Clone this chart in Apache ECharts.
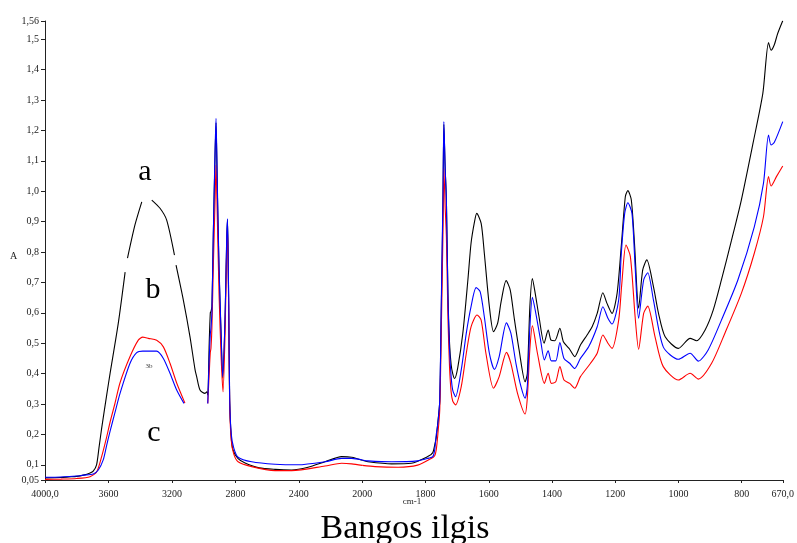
<!DOCTYPE html>
<html>
<head>
<meta charset="utf-8">
<script src="https://cdn.jsdelivr.net/npm/echarts@6/dist/echarts.min.js"></script>
<style>
html,body{margin:0;padding:0;background:#fff;}
#chart{width:797px;height:543px;}
</style>
</head>
<body>
<div id="chart"></div>
<script>
// Tick labels
const yTicks = [0.05, 0.1, 0.2, 0.3, 0.4, 0.5, 0.6, 0.7, 0.8, 0.9, 1.0, 1.1, 1.2, 1.3, 1.4, 1.5, 1.56];
const xTicksHigh = [4000, 3600, 3200, 2800, 2400, 2000];
const xTicksLow = [1800, 1600, 1400, 1200, 1000, 800, 670];

// Spectrum a (black): [wavenumber cm-1, absorbance]; null = gap in trace
const spectrumA = [
[4000,0.057],[3900,0.058],[3850,0.06],[3800,0.062],[3758,0.066],[3716,0.073],[3696,0.079],[3675,0.1],[3660,0.155],[3643,0.22],[3611,0.33],[3590,0.4],[3538,0.566],[3495,0.734],[3488,null],[3480,0.78],[3433,0.889],[3390,0.965],[3357,null],[3327,0.971],[3275,0.944],[3233,0.905],[3184,0.79],[3179,null],[3174,0.757],[3128,0.642],[3086,0.521],[3054,0.412],[3044,0.39],[3023,0.346],[2991,0.335],[2980,0.34],[2974,0.33],[2965,0.5],[2958,0.6],[2954,0.604],[2948,0.62],[2939,0.86],[2928,1.12],[2922,1.225],[2914,1.01],[2903,0.74],[2890,0.525],[2880,0.385],[2865,0.58],[2855,0.83],[2850,0.905],[2846,0.8],[2842,0.62],[2836,0.31],[2826,0.19],[2815,0.149],[2783,0.12],[2739,0.106],[2650,0.09],[2550,0.085],[2445,0.083],[2342,0.092],[2235,0.11],[2130,0.127],[2067,0.125],[2000,0.115],
[1982,0.11],[1907,0.103],[1845,0.105],[1793,0.127],[1777,0.14],[1771,0.165],[1766,0.19],[1761,0.24],[1755,0.31],[1750,0.62],[1745,0.95],[1742,1.22],[1738,1.08],[1734,0.97],[1729,0.66],[1724,0.5],[1719,0.43],[1714,0.4],[1708,0.384],[1698,0.42],[1682,0.533],[1666,0.708],[1656,0.829],[1645,0.9],[1638,0.927],[1624,0.894],[1614,0.796],[1598,0.62],[1585,0.538],[1572,0.565],[1561,0.636],[1545,0.706],[1532,0.675],[1520,0.587],[1504,0.478],[1485,0.373],[1478,0.4],[1470,0.62],[1462,0.713],[1453,0.664],[1441,0.587],[1425,0.5],[1412,0.543],[1403,0.51],[1391,0.508],[1375,0.549],[1364,0.505],[1346,0.483],[1328,0.456],[1310,0.494],[1289,0.527],[1273,0.554],[1257,0.598],[1239,0.666],[1226,0.631],[1210,0.598],[1194,0.664],[1181,0.817],[1168,0.982],[1160,1.002],[1149,0.971],[1139,0.829],[1126,0.615],[1113,0.741],[1100,0.774],[1079,0.686],[1063,0.598],[1042,0.521],[1000,0.483],[963,0.516],[943,0.508],[916,0.543],[890,0.609],[864,0.708],[832,0.839],[801,0.971],[764,1.158],[733,1.322],[715,1.489],[707,1.464],[697,1.481],[686,1.519],[670,1.561]
];

// Spectrum b (blue)
const spectrumB = [
[4000,0.059],[3900,0.06],[3800,0.063],[3758,0.066],[3696,0.07],[3664,0.083],[3633,0.116],[3611,0.165],[3590,0.21],[3560,0.27],[3527,0.335],[3464,0.434],[3422,0.469],[3384,0.474],[3340,0.474],[3296,0.474],[3254,0.45],[3212,0.401],[3170,0.346],[3124,0.302],[3050,null],[2974,0.302],[2965,0.45],[2958,0.53],[2954,0.549],[2948,0.6],[2939,0.861],[2928,1.136],[2922,1.24],[2914,1.026],[2903,0.752],[2890,0.533],[2880,0.39],[2865,0.587],[2855,0.84],[2850,0.909],[2846,0.8],[2842,0.64],[2836,0.32],[2826,0.2],[2810,0.155],[2783,0.125],[2697,0.11],[2550,0.102],[2405,0.1],[2235,0.11],[2130,0.121],[2067,0.121],[2000,0.116],
[1982,0.113],[1907,0.11],[1825,0.113],[1790,0.122],[1777,0.127],[1771,0.149],[1766,0.2],[1761,0.236],[1755,0.313],[1750,0.642],[1745,0.971],[1742,1.229],[1738,1.08],[1734,0.971],[1729,0.642],[1724,0.478],[1719,0.39],[1714,0.346],[1705,0.324],[1687,0.412],[1671,0.533],[1656,0.62],[1640,0.683],[1627,0.669],[1614,0.587],[1598,0.467],[1582,0.414],[1567,0.456],[1544,0.567],[1530,0.533],[1514,0.434],[1498,0.357],[1485,0.319],[1478,0.36],[1470,0.55],[1462,0.651],[1453,0.609],[1436,0.51],[1424,0.445],[1412,0.475],[1402,0.442],[1388,0.442],[1375,0.502],[1362,0.45],[1344,0.434],[1328,0.417],[1310,0.45],[1284,0.488],[1257,0.554],[1239,0.62],[1223,0.582],[1210,0.563],[1189,0.642],[1181,0.79],[1170,0.927],[1160,0.962],[1147,0.927],[1137,0.752],[1126,0.582],[1110,0.708],[1097,0.732],[1079,0.642],[1048,0.488],[1000,0.447],[963,0.467],[937,0.441],[906,0.478],[864,0.576],[812,0.708],[760,0.883],[731,1.026],[715,1.185],[707,1.152],[697,1.16],[670,1.229]
];

// Spectrum c (red)
const spectrumC = [
[4000,0.052],[3900,0.053],[3800,0.055],[3716,0.061],[3674,0.077],[3643,0.127],[3611,0.192],[3590,0.24],[3560,0.3],[3527,0.37],[3464,0.456],[3412,0.51],[3384,0.52],[3365,0.518],[3349,0.516],[3296,0.51],[3254,0.488],[3212,0.434],[3170,0.369],[3118,0.303],[3050,null],[2974,0.302],[2965,0.4],[2958,0.47],[2954,0.483],[2948,0.55],[2939,0.752],[2928,0.971],[2922,1.086],[2914,0.916],[2903,0.664],[2890,0.456],[2878,0.34],[2865,0.533],[2855,0.806],[2850,0.88],[2846,0.76],[2842,0.6],[2836,0.3],[2826,0.18],[2810,0.135],[2783,0.11],[2697,0.094],[2550,0.081],[2445,0.081],[2235,0.096],[2130,0.105],[2067,0.103],[2000,0.098],
[1960,0.094],[1887,0.092],[1825,0.099],[1782,0.121],[1771,0.13],[1766,0.15],[1761,0.2],[1755,0.28],[1750,0.55],[1745,0.85],[1742,1.075],[1738,0.95],[1734,0.85],[1729,0.58],[1724,0.42],[1719,0.34],[1714,0.31],[1705,0.297],[1687,0.357],[1671,0.467],[1656,0.554],[1637,0.593],[1624,0.576],[1609,0.467],[1585,0.352],[1567,0.39],[1544,0.47],[1530,0.434],[1509,0.335],[1485,0.267],[1478,0.32],[1470,0.48],[1462,0.557],[1446,0.467],[1424,0.368],[1412,0.401],[1402,0.368],[1388,0.373],[1375,0.423],[1362,0.379],[1344,0.368],[1328,0.352],[1310,0.39],[1278,0.434],[1257,0.467],[1239,0.527],[1223,0.5],[1210,0.483],[1189,0.576],[1179,0.697],[1166,0.823],[1152,0.785],[1137,0.587],[1126,0.48],[1110,0.598],[1097,0.622],[1074,0.521],[1048,0.423],[1000,0.379],[963,0.401],[937,0.382],[895,0.434],[853,0.533],[801,0.664],[760,0.796],[731,0.916],[715,1.048],[707,1.017],[690,1.048],[670,1.083]
];

const FONT = '"Liberation Serif", "Times New Roman", serif';
const chart = echarts.init(document.getElementById('chart'), null, {renderer: 'canvas'});

function high(d) { return d.filter(p => p[0] >= 2000); }
function low(d) { return d.filter(p => p[0] <= 2000); }

function yFmt(v) {
  if (Math.abs(v - 0.05) < 1e-9) return '0,05';
  if (Math.abs(v - 1.56) < 1e-9) return '1,56';
  return v.toFixed(1).replace('.', ',');
}
function xFmt(v) {
  if (v === 4000) return '4000,0';
  if (v === 670) return '670,0';
  return String(v);
}

const axisLineStyle = {color: '#222', width: 1};
const labelStyle = {fontFamily: FONT, fontSize: 10, color: '#222'};

const curves = [
  {name: 'a', data: spectrumA, color: '#000000'},
  {name: 'c', data: spectrumC, color: '#ff0000'},
  {name: 'b', data: spectrumB, color: '#0000ff'}
];
const series = [];
curves.forEach(c => {
  [0, 1].forEach(i => {
    series.push({
      type: 'line', name: c.name,
      xAxisIndex: i, yAxisIndex: i,
      data: i === 0 ? high(c.data) : low(c.data),
      showSymbol: false, symbol: 'none',
      connectNulls: false,
      smooth: 0.25,
      lineStyle: {color: c.color, width: 1.1},
      itemStyle: {color: c.color},
      animation: false
    });
  });
});

const option = {
  backgroundColor: '#fff',
  animation: false,
  grid: [
    {left: 45, top: 21, width: 317.3, height: 459},
    {left: 362.3, top: 21, width: 423.7, height: 459}
  ],
  xAxis: [
    {
      gridIndex: 0, type: 'value', inverse: true, min: 2000, max: 4000,
      axisLine: {show: true, lineStyle: axisLineStyle},
      axisTick: {show: true, length: 3, lineStyle: axisLineStyle, customValues: xTicksHigh},
      axisLabel: Object.assign({margin: 9, formatter: xFmt, customValues: xTicksHigh}, labelStyle),
      splitLine: {show: false}
    },
    {
      gridIndex: 1, type: 'value', inverse: true, min: 670, max: 2000,
      axisLine: {show: true, lineStyle: axisLineStyle},
      axisTick: {show: true, length: 3, lineStyle: axisLineStyle, customValues: xTicksLow},
      axisLabel: Object.assign({margin: 9, formatter: xFmt, customValues: xTicksLow}, labelStyle),
      splitLine: {show: false}
    }
  ],
  yAxis: [
    {
      gridIndex: 0, type: 'value', min: 0.05, max: 1.56,
      axisLine: {show: true, lineStyle: axisLineStyle},
      axisTick: {show: true, length: 4, lineStyle: axisLineStyle, customValues: yTicks},
      axisLabel: Object.assign({margin: 6, formatter: yFmt, customValues: yTicks}, labelStyle),
      splitLine: {show: false}
    },
    {
      gridIndex: 1, type: 'value', min: 0.05, max: 1.56, show: false,
      splitLine: {show: false}
    }
  ],
  series: series,
  graphic: [
    {type: 'text', left: 10, top: 251, style: {text: 'A', font: '10px ' + FONT, fill: '#222'}},
    {type: 'text', x: 412, y: 502, style: {text: 'cm-1', font: '9px ' + FONT, fill: '#222', align: 'center', verticalAlign: 'middle'}},
    {type: 'text', x: 405, y: 529, style: {text: 'Bangos ilgis', font: '34px ' + FONT, fill: '#000', align: 'center', verticalAlign: 'middle'}},
    {type: 'text', x: 145, y: 172, z: 10, style: {text: 'a', font: '30px ' + FONT, fill: '#000', align: 'center', verticalAlign: 'middle'}},
    {type: 'text', x: 153, y: 290, z: 10, style: {text: 'b', font: '30px ' + FONT, fill: '#000', align: 'center', verticalAlign: 'middle'}},
    {type: 'text', x: 154, y: 433, z: 10, style: {text: 'c', font: '30px ' + FONT, fill: '#000', align: 'center', verticalAlign: 'middle'}},
    {type: 'text', x: 149, y: 366, z: 10, style: {text: '3b', font: '7px ' + FONT, fill: '#444', align: 'center', verticalAlign: 'middle'}}
  ]
};
chart.setOption(option);
</script>
</body>
</html>
